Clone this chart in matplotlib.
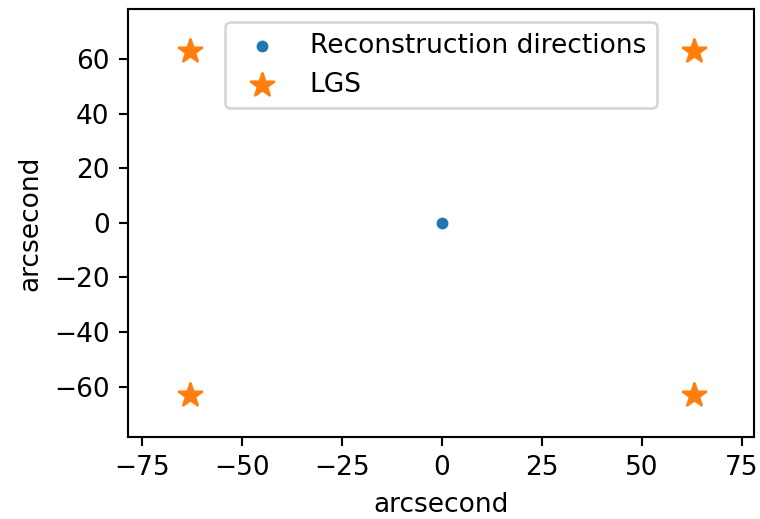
import matplotlib
matplotlib.use("Agg")
import matplotlib.pyplot as plt

# reconstruction direction (arcsec)
rec_x = [0]
rec_y = [0]

# LGS positions (arcsec)
lgs_x = [63, -63, -63, 63]
lgs_y = [63, 63, -63, -63]

dpi = 190
fig = plt.figure(figsize=(760 / dpi, 519 / dpi), dpi=dpi)
ax = fig.add_axes([0.1684, 0.158, 0.8236, 0.825])

ax.scatter(rec_x, rec_y, s=12, label="Reconstruction directions")
ax.scatter(lgs_x, lgs_y, marker="*", s=85, label="LGS")

ax.set_xlim(-78.5, 78)
ax.set_ylim(-78.5, 78.5)
ax.set_xticks([-75, -50, -25, 0, 25, 50, 75])
ax.set_xlabel("arcsecond")
ax.set_ylabel("arcsecond")
ax.legend(loc="upper center")

fig.savefig("out.png", dpi=dpi)
